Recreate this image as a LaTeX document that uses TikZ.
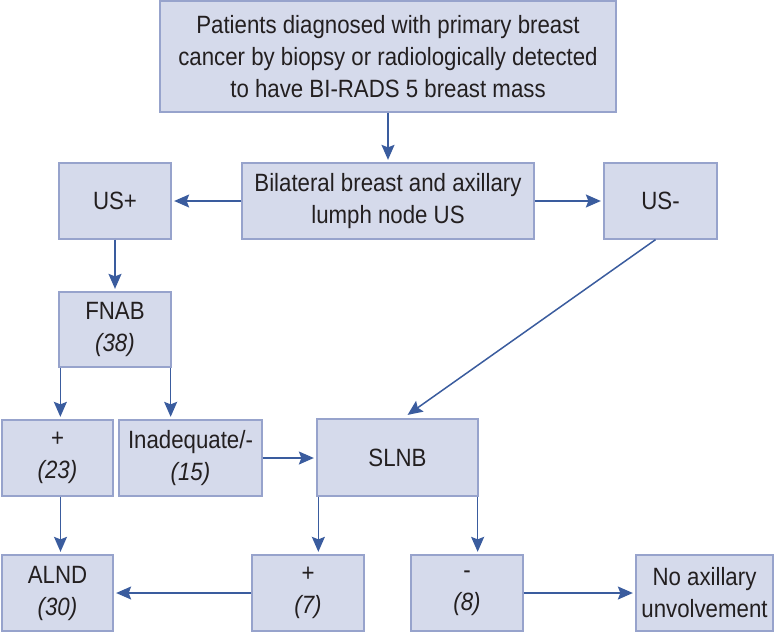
\documentclass[tikz,border=0pt]{standalone}
\usepackage{fontspec}
\setmainfont[FakeStretch=0.89]{Liberation Sans}
\usetikzlibrary{arrows.meta,calc}
\definecolor{boxfill}{HTML}{D5DAEB}
\definecolor{boxline}{HTML}{97A3CC}
\definecolor{arrcol}{HTML}{3A5C9E}
\definecolor{txt}{HTML}{231F20}
\begin{document}
\begin{tikzpicture}[x=1pt,y=1pt,
  box/.style={draw=boxline,fill=boxfill,line width=1.3pt,inner sep=0pt,align=center,
    text=txt,font=\fontsize{25}{32}\selectfont},
  arr/.style={draw=arrcol,line width=1.5pt,-{Stealth[length=15pt,width=13pt,inset=2.5pt]},shorten >=2.5pt}]
\useasboundingbox (0,0) rectangle (775,-632);
\node[box,minimum width=456,minimum height=111] (top) at (388,-56.5)
  {Patients diagnosed with primary breast\\cancer by biopsy or radiologically detected\\to have BI-RADS 5 breast mass};
\node[box,minimum width=292,minimum height=76] (bil) at (388,-201)
  {Bilateral breast and axillary\\lumph node US};
\node[box,minimum width=112,minimum height=76] (usp) at (115,-201) {US+};
\node[box,minimum width=113,minimum height=76] (usm) at (660.5,-201) {US-};
\node[box,minimum width=112,minimum height=75] (fnab) at (115,-329.5) {FNAB\\\itshape(38)};
\node[box,minimum width=111,minimum height=76] (p23) at (57.5,-458) {+\\\itshape(23)};
\node[box,minimum width=143,minimum height=76] (inad) at (190.5,-458) {Inadequate/-\\\itshape(15)};
\node[box,minimum width=161,minimum height=77] (slnb) at (397.5,-457.5) {SLNB};
\node[box,minimum width=111,minimum height=76] (alnd) at (57.5,-593) {ALND\\\itshape(30)};
\node[box,minimum width=112,minimum height=76] (p7) at (308,-593) {+\\\itshape(7)};
\node[box,minimum width=112,minimum height=76] (m8) at (467,-593) {-\\\itshape(8)};
\node[box,minimum width=137,minimum height=76] (noax) at (704.5,-593) {No axillary\\unvolvement};
% connectors
\draw[arr] (top.south) -- (bil.north);
\draw[arr] (bil.west) -- (usp.east);
\draw[arr] (bil.east) -- (usm.east -| usm.west);
\draw[arr] (usp.south) -- (fnab.north);
\coordinate (f1) at ($(fnab.south west)+(2,0)$);
\coordinate (f2) at ($(fnab.south east)+(-1,0)$);
\draw[arr] (f1) -- (f1 |- p23.north);
\draw[arr] (f2) -- (f2 |- inad.north);
\draw[arr] (inad.east) -- (inad.east -| slnb.west);
\coordinate (d1) at ($(usm.south)+(-5,0)$);
\coordinate (d2) at ($(slnb.north)+(8,2)$);
\draw[arr] (d1) -- (d2);
\draw[arr] (p23.south) ++(3,0) coordinate (a1) -- (a1 |- alnd.north);
\coordinate (s1) at ($(slnb.south west)+(2,0)$);
\coordinate (s2) at ($(slnb.south east)+(-1,0)$);
\draw[arr] (s1) -- (s1 |- p7.north);
\draw[arr] (s2) -- (s2 |- m8.north);
\draw[arr] (p7.west) -- (alnd.east);
\draw[arr] (m8.east) -- (noax.west);
\end{tikzpicture}
\end{document}
